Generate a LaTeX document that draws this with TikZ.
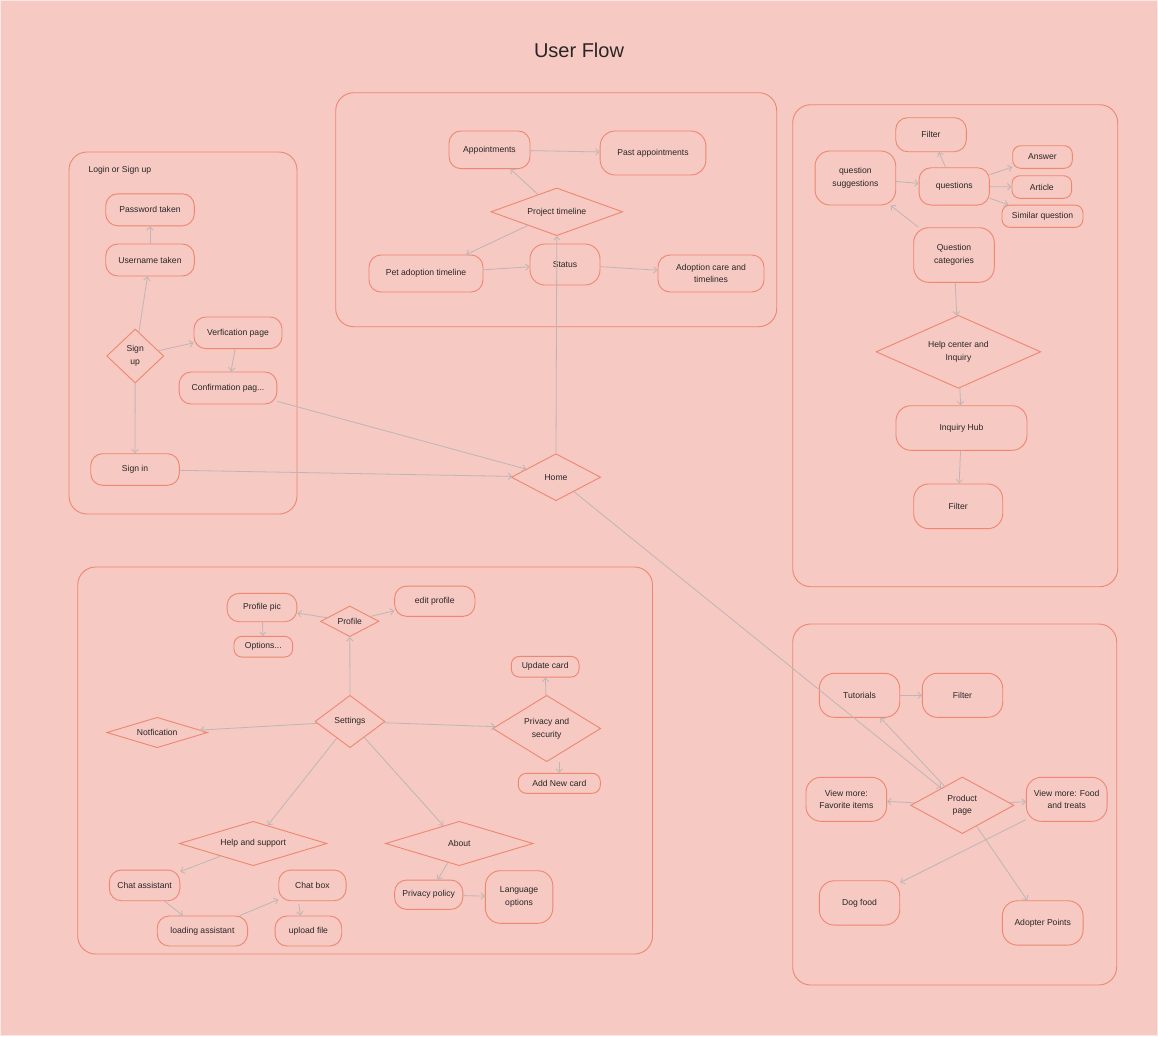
\documentclass[tikz,border=0pt]{standalone}
\usepackage{fontspec}
\setmainfont{Liberation Sans}
\usetikzlibrary{shapes.geometric,arrows.meta}
\definecolor{bgcol}{HTML}{F6C9C3}
\definecolor{bordercol}{HTML}{F08670}
\definecolor{arrowcol}{HTML}{BEB6B4}
\definecolor{textcol}{HTML}{2A2626}
\tikzset{
  base/.style={draw=bordercol, line width=0.9pt, inner sep=0pt, align=center, text=textcol,
    font=\fontsize{8.6}{12.7}\selectfont},
  box/.style n args={2}{base, rectangle, rounded corners=12pt, minimum width=#1pt, minimum height=#2pt},
  tallbox/.style n args={2}{box={#1}{#2}, rounded corners=15pt},
  smallbox/.style n args={2}{box={#1}{#2}, rounded corners=8pt},
  dia/.style n args={3}{base, diamond, shape aspect=#3, minimum width=#1pt, minimum height=#2pt},
  grp/.style n args={2}{draw=bordercol, line width=0.9pt, rectangle, rounded corners=18pt, inner sep=0pt,
    minimum width=#1pt, minimum height=#2pt},
  arr/.style={draw=arrowcol, line width=0.8pt, -{Straight Barb[length=3.5pt,width=6.5pt]}},
}
\begin{document}
\begin{tikzpicture}[x=1pt,y=-1pt]
\useasboundingbox (0,0) rectangle (1158,1036);
\fill[bgcol] (0,0) rectangle (1158,1036);
\draw[white!55!bgcol, line width=1.2pt] (0.6,0.6) rectangle (1157.4,1035.4);

\node[text=textcol, font=\fontsize{20}{24}\selectfont] (title) at (579,50) {User Flow};

% group frames
\node[grp={228}{362}] (g1) at (183,333) {};
\node[grp={441}{234}] (g2) at (556.2,209.7) {};
\node[grp={325}{482}] (g3) at (955.2,345.7) {};
\node[grp={574.8}{387}] (g4) at (365.1,760.5) {};
\node[grp={324}{361}] (g5) at (954.7,804.5) {};

% Login or Sign up
\node[text=textcol, font=\fontsize{8.6}{12.7}\selectfont, anchor=west] (lgtitle) at (85,170) {Login or Sign up};
\node[box={88.6}{32}] (pass) at (150,209.8) {Password taken};
\node[box={88.6}{32}] (user) at (150,260) {Username taken};
\node[dia={57}{54}{1.05}] (signup) at (135.2,356) {Sign\\up};
\node[box={88}{31.7}] (verf) at (238,332.8) {Verfication page};
\node[box={97.7}{32}] (conf) at (228,388) {Confirmation pag...};
\node[box={88.6}{31.6}] (signin) at (135,469.5) {Sign in};

% Home
\node[dia={89.4}{47}{1.9}] (home) at (556,477.2) {Home};

% Timeline group
\node[box={81}{37.7}] (appt) at (489.5,149.8) {Appointments};
\node[tallbox={105.7}{44}] (past) at (653,153) {Past appointments};
\node[dia={131.7}{47.7}{2.75}] (pt) at (556.8,211.8) {Project timeline};
\node[box={114}{37}] (pet) at (426,273.5) {Pet adoption timeline};
\node[tallbox={70}{41}] (status) at (565,264.5) {Status};
\node[box={106}{37}] (adopt) at (711,273.5) {Adoption care and\\timelines};

% Help group
\node[box={70.6}{34}] (filter1) at (931,134.7) {Filter};
\node[tallbox={80.7}{54}] (qs) at (855.4,178) {question\\suggestions};
\node[box={70.3}{37.3}] (questions) at (954.2,186.4) {questions};
\node[smallbox={59.6}{22.6}] (answer) at (1042.5,157) {Answer};
\node[smallbox={59.7}{22.6}] (article) at (1041.8,187) {Article};
\node[smallbox={81}{22.3}] (similar) at (1042.5,216.2) {Similar question};
\node[tallbox={80.6}{54.6}] (qc) at (954,255) {Question\\categories};
\node[dia={164.7}{73}{2.25}] (hci) at (958.4,351.8) {Help center and\\Inquiry};
\node[tallbox={131}{44.6}] (hub) at (961.5,428) {Inquiry Hub};
\node[tallbox={89}{44.7}] (filter2) at (958.2,506.3) {Filter};

% Settings group
\node[box={69.7}{28.4}] (ppic) at (262,607.5) {Profile pic};
\node[smallbox={58.7}{20.7}] (opts) at (263.3,646.7) {Options...};
\node[dia={58.3}{30.7}{1.9}] (profile) at (349.8,621.3) {Profile};
\node[box={80.3}{30.3}] (edit) at (434.8,601.2) {edit profile};
\node[smallbox={67.7}{20.7}] (update) at (545.2,666.7) {Update card};
\node[dia={70}{52.4}{1.34}] (settings) at (350,721.5) {Settings};
\node[dia={101}{30.4}{3.3}] (notif) at (157.2,732.5) {Notfication};
\node[dia={108}{66.4}{1.63}] (ps) at (546.7,728.5) {Privacy and\\security};
\node[smallbox={82}{20}] (addcard) at (559.3,783.3) {Add New card};
\node[dia={147.5}{44.4}{3.3}] (hs) at (253.2,843.5) {Help and support};
\node[dia={147.7}{44.4}{3.3}] (about) at (459.3,843.5) {About};
\node[box={70.4}{30.7}] (chatasst) at (144.6,885.4) {Chat assistant};
\node[box={90.4}{30}] (loading) at (202.4,931) {loading assistant};
\node[box={67.4}{30.7}] (chatbox) at (312.4,885.4) {Chat box};
\node[box={66.7}{30}] (upload) at (308.4,931) {upload file};
\node[box={68.2}{29.3}] (ppol) at (428.7,894.7) {Privacy policy};
\node[tallbox={67.4}{52.6}] (lang) at (519.1,897) {Language\\options};

% Product group
\node[tallbox={80.4}{44}] (tut) at (859.5,695.3) {Tutorials};
\node[tallbox={80.4}{44}] (filter3) at (962.5,695.3) {Filter};
\node[tallbox={80.7}{44}] (fav) at (846.3,799.3) {View more:\\Favorite items};
\node[dia={103.3}{56.7}{1.82}] (product) at (962.3,805.3) {Product\\page};
\node[tallbox={80.7}{44}] (food) at (1066.7,799.3) {View more: Food\\and treats};
\node[tallbox={80.4}{44.3}] (dog) at (859.5,902.9) {Dog food};
\node[tallbox={80.7}{44.3}] (adopter) at (1042.7,922.9) {Adopter Points};

% connectors: login
\draw[arr] (user) -- (pass);
\draw[arr] (signup) -- (user);
\draw[arr] (signup) -- (verf);
\draw[arr] (verf) -- (conf);
\draw[arr] (signup) -- (signin);
\draw[arr] (conf) -- (home);
\draw[arr] (signin) -- (home);

% timeline
\draw[arr] (home.north) -- (pt.south);
\draw[arr] (appt) -- (past);
\draw[arr] (pt) -- (appt);
\draw[arr] (pt) -- (pet);
\draw[arr] (pet) -- (status);
\draw[arr] (status) -- (adopt);

% help
\draw[arr] (questions) -- (filter1);
\draw[arr] (qs) -- (questions);
\draw[arr] (questions) -- (answer);
\draw[arr] (questions) -- (article);
\draw[arr] (questions) -- (similar);
\draw[arr] (qc) -- (qs);
\draw[arr] (qc) -- (hci);
\draw[arr] (hci) -- (hub);
\draw[arr] (hub) -- (filter2);

% settings
\draw[arr] (profile) -- (ppic);
\draw[arr] (ppic) -- (opts);
\draw[arr] (settings) -- (profile);
\draw[arr] (profile) -- (edit);
\draw[arr] (settings) -- (notif);
\draw[arr] (settings) -- (ps);
\draw[arr] (ps) -- (update);
\draw[arr] (ps.south -| addcard.north) -- (addcard.north);
\draw[arr] (settings) -- (hs);
\draw[arr] (settings) -- (about);
\draw[arr] (hs) -- (chatasst);
\draw[arr] (chatasst) -- (loading);
\draw[arr] (loading) -- (chatbox);
\draw[arr, shorten <=3pt] ([xshift=-14pt]chatbox.south) -- ([xshift=-8pt]upload.north);
\draw[arr] (about) -- (ppol);
\draw[arr] (ppol) -- (lang);

% product
\draw[arr] (home) -- (product);
\draw[arr] (tut) -- (filter3);
\draw[arr] (product) -- (tut);
\draw[arr] (product) -- (fav);
\draw[arr] (product) -- (food);
\draw[arr] (food) -- (dog);
\draw[arr] (product) -- (adopter);
\end{tikzpicture}
\end{document}
